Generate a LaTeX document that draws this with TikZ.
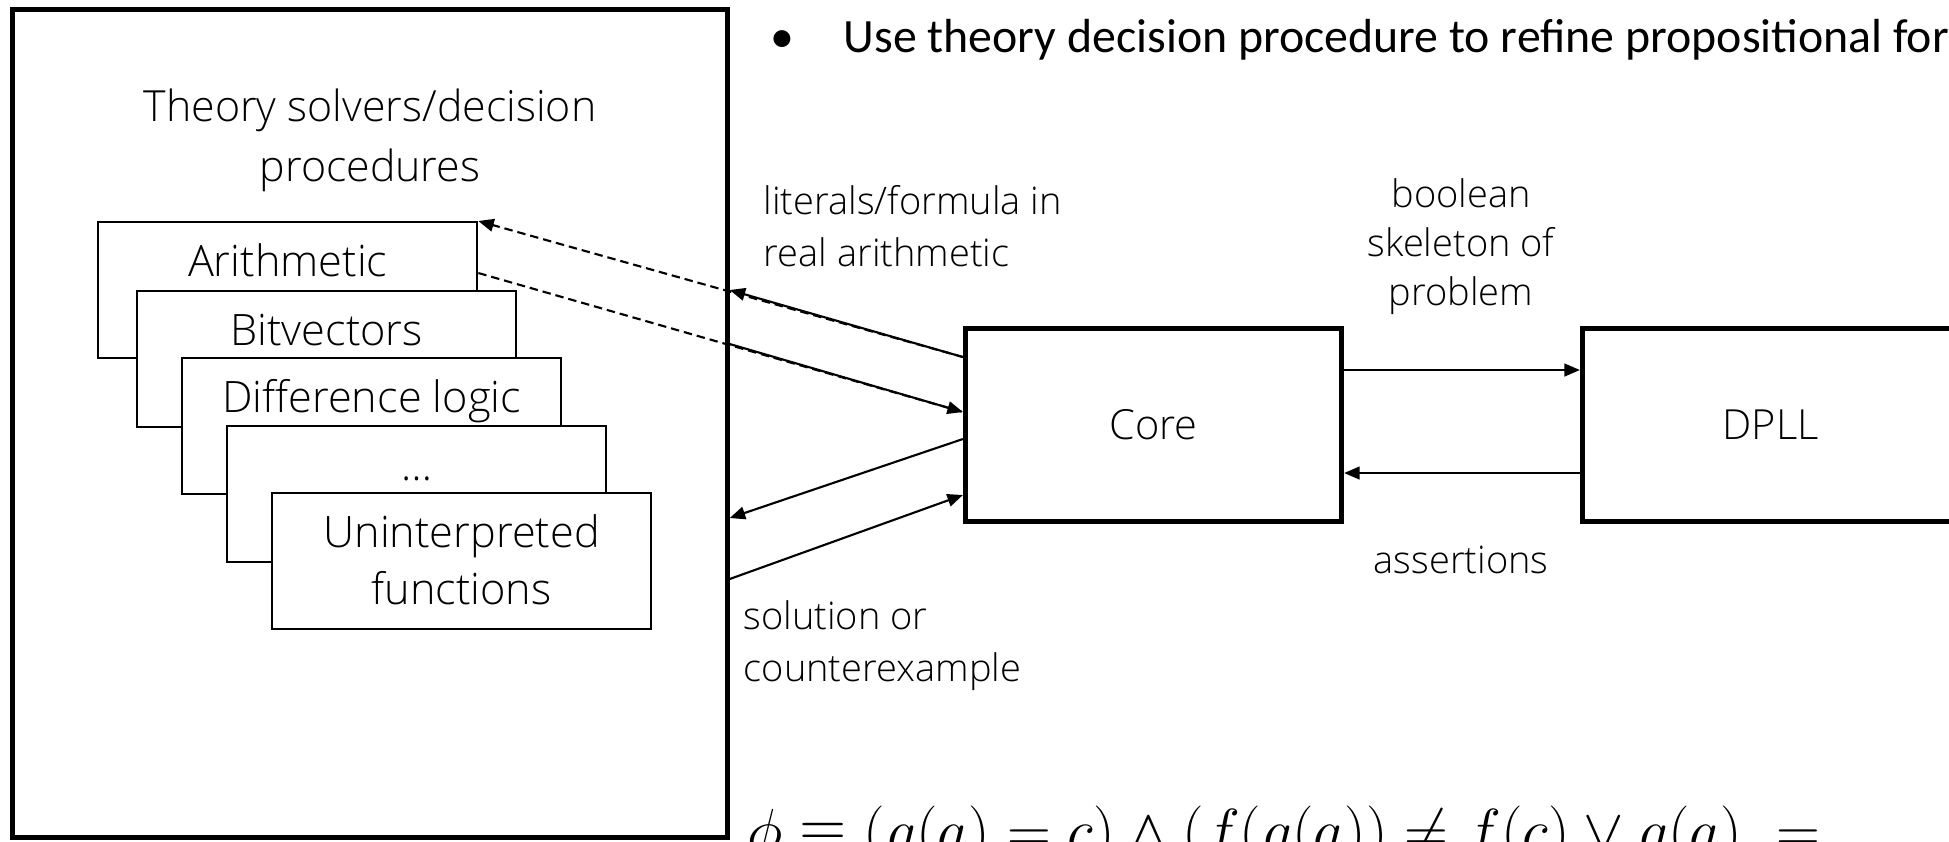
\documentclass[tikz,border=0pt]{standalone}
\usepackage{fontspec}
\setmainfont{Open Sans Light}
\newfontfamily\calibri{Carlito}
\usetikzlibrary{arrows.meta,calc}

\begin{document}
\begin{tikzpicture}[x=0.01cm,y=-0.01cm,
	bigbox/.style={draw,line width=1.42pt,inner sep=0pt},
	solver/.style={draw,fill=white,line width=0.6pt,minimum width=3.79cm,minimum height=1.36cm,anchor=north west,inner sep=0pt},
	solvertext/.style={anchor=north,yshift=-0.22cm,inner sep=0pt,align=center,font=\fontsize{12.3}{16.2}\selectfont},
	link/.style={line width=0.6pt,-{Triangle[length=4.4pt,width=3.6pt]}},
	dlink/.style={link,dash pattern=on 2.4pt off 1.4pt},
	note/.style={inner sep=0pt,font=\fontsize{10.8}{14.6}\selectfont}]
		\useasboundingbox (0,0) rectangle (1949,841);
		\clip (0,0) rectangle (1949,841);
		\node[bigbox,minimum width=7.14cm,minimum height=8.27cm] (theory) at (370,423.5) {};
		\node[inner sep=0pt,align=center,font=\fontsize{12.2}{17}\selectfont] (title) at (370,140) {Theory solvers/decision\\procedures};
		\foreach \n/\x/\y/\t in {arith/97/221/Arithmetic,bitv/136/290/Bitvectors,diff/181/357/Difference logic,more/226/425/…,unint/271/492/{Uninterpreted\\functions}}
		\node[solver,label={[solvertext]north:\vphantom{h}\t}] (\n) at (\x,\y) {};
		
		\node[bigbox,minimum width=3.76cm,minimum height=1.93cm,font=\fontsize{11.8}{14}\selectfont] (core) at (1153.5,425) {Core};
		\node[bigbox,minimum width=3.76cm,minimum height=1.93cm,font=\fontsize{11.8}{14}\selectfont] (dpll) at (1770.5,425) {DPLL};
		
		\draw[link] (core.east |- 0,370) -- (dpll.west |- 0,370);
		\draw[link] (dpll.west |- 0,473) -- (core.east |- 0,473);
		\draw[dlink] (core.west |- 0,357) -- (arith.north east);
		\draw[link] (core.west |- 0,357) -- (theory.east |- 0,290);
		\draw[dlink,-] ($(arith.north east)+(0,52)$) -- (core.west |- 0,412);
		\draw[link] (theory.east |- 0,344) -- (core.west |- 0,412);
		\draw[link] (core.west |- 0,439) -- (theory.east |- 0,518);
		\draw[link] (theory.east |- 0,579) -- (core.west |- 0,495);
		
		\node[note,align=left,anchor=base west] (lit) at (763,266) {literals/formula in\\real arithmetic};
		\node[note,align=center,anchor=base,font=\fontsize{10.8}{13.8}\selectfont] (skel) at (1461,305) {boolean\\skeleton of\\problem};
		\node[note,anchor=base] (asrt) at (1461,573) {assertions};
		\node[note,align=left,anchor=base west] (sol) at (743,681) {solution or\\counterexample};
		
		\node[anchor=base west,inner sep=0pt,font=\calibri\fontsize{13.6}{16}\selectfont] (bul) at (770,52) {•};
		\node[anchor=base west,inner sep=0pt,font=\calibri\fontsize{13.6}{16}\selectfont] (use) at (843,52) {Use theory decision procedure to refine propositional for};
		\node[anchor=base west,inner sep=0pt,font=\fontsize{18.8}{22}\selectfont] (phi) at (747,851) {$\phi \equiv (g(a)=c) \wedge (f\big(g(a)\big) \neq f(c) \vee g(a) \;=$};
	\end{tikzpicture}
\end{document}
